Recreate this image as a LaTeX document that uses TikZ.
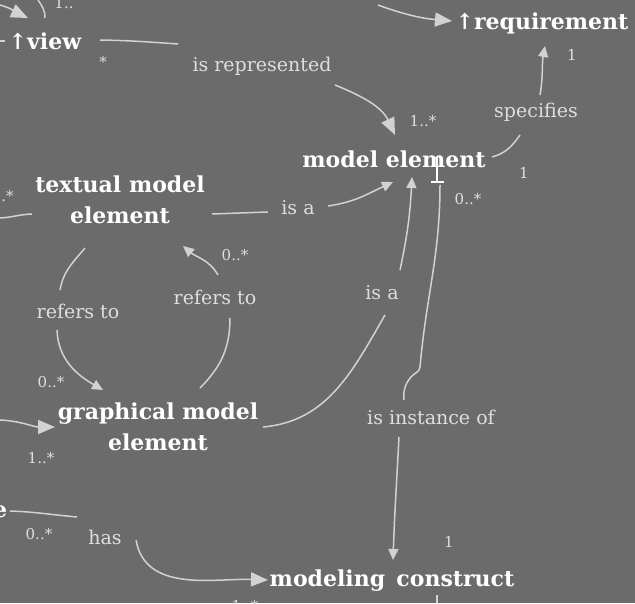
\documentclass[tikz,border=0pt]{standalone}
\usepackage{fontspec}
\setmainfont{DejaVu Serif}
\usetikzlibrary{arrows.meta}

\definecolor{bgray}{HTML}{6B6B6B}
\definecolor{lgray}{HTML}{D2D2D2}
\definecolor{tgray}{HTML}{DEDEDE}

\tikzset{
  concept/.style={text=white, font=\bfseries\fontsize{22}{31}\selectfont, align=center, inner sep=0pt},
  rel/.style={text=tgray, font=\fontsize{19}{22}\selectfont, inner sep=0pt},
  mult/.style={text=tgray, font=\fontsize{15}{17}\selectfont, inner sep=0pt},
  conn/.style={draw=lgray, line width=1.5pt},
  tip/.style={-{Triangle[length=11pt,width=10pt]}},
  bigtip/.style={-{Triangle[length=17pt,width=14pt]}},
}

\begin{document}
\begin{tikzpicture}[x=1pt,y=1pt]
	\fill[bgray] (0,0) rectangle (635,603);
	\useasboundingbox (0,0) rectangle (635,603);
	\clip (0,0) rectangle (635,603);

	% concepts
	\node[concept] (view) at (45,562) {↑view};
	\node[concept] (req) at (542,580) {↑requirement};
	\node[concept] (me) at (394,444) {model element};
	\node[concept] (txt) at (120,403) {textual model\\element};
	\node[concept] (gfx) at (158,176) {graphical model\\element};
	\node[concept] (mc) at (392,22) {modeling\, construct};
	\node[concept] (efrag) at (0,91) {e};

	% relation labels
	\node[rel] (rep) at (262,537) {is represented};
	\node[rel] (spec) at (536,491) {specifies};
	\node[rel] (isa1) at (298,395) {is a};
	\node[rel] (isa2) at (382,310) {is a};
	\node[rel] (ref1) at (78,292) {refers to};
	\node[rel] (ref2) at (215,306) {refers to};
	\node[rel] (inst) at (431,186) {is instance of};
	\node[rel] (has) at (105,66) {has};

	% multiplicities
	\node[mult] (m1) at (103,541) {*};
	\node[mult] (m2) at (423,482) {1..*};
	\node[mult] (m3) at (572,548) {1};
	\node[mult] (m4) at (524,430) {1};
	\node[mult] (m5) at (468,404) {0..*};
	\node[mult] (m6) at (235,348) {0..*};
	\node[mult] (m7) at (51,221) {0..*};
	\node[mult] (m8) at (41,145) {1..*};
	\node[mult] (m9) at (39,69) {0..*};
	\node[mult] (m10) at (449,61) {1};
	\node[mult] (m11) at (5,407) {..*};
	\node[mult] (m12) at (64,600) {1..};
	\node[mult] (m13) at (245,-3) {1..*};

	% free ends at the border
	\coordinate (w1) at (0,598);
	\coordinate (w2) at (38,603);
	\coordinate (w3) at (0,562);
	\coordinate (w4) at (0,385);
	\coordinate (w5) at (0,183);
	\coordinate (n1) at (378,598);
	\coordinate (s1) at (437,8);
	\coordinate (s2) at (437,0);

	% is represented
	\draw[conn] ([shift={(55,1)}]view.center) to[out=-1,in=176] ([shift={(-84,22)}]rep.center);
	\draw[conn,bigtip] ([shift={(73,-19)}]rep.center) to[out=-22,in=115] ([shift={(1,24)}]me.center);
	% specifies
	\draw[conn] ([shift={(98,2)}]me.center) to[out=15,in=235] ([shift={(-16,-23)}]spec.center);
	\draw[conn,tip] ([shift={(4,17)}]spec.center) to[out=80,in=-100] ([shift={(3,-23)}]req.center);
	% textual is a
	\draw[conn] ([shift={(92,-14)}]txt.center) to[out=2,in=182] ([shift={(-30,-4)}]isa1.center);
	\draw[conn,tip] ([shift={(30,2)}]isa1.center) to[out=8,in=205] ([shift={(-1,-23)}]me.center);
	% graphical is a
	\draw[conn] ([shift={(105,0)}]gfx.center) to[out=5,in=240] ([shift={(3,-22)}]isa2.center);
	\draw[conn,tip] ([shift={(18,23)}]isa2.center) to[out=78,in=-93] ([shift={(18,-18)}]me.center);
	% is instance of
	\draw[conn] ([shift={(46,-26)}]me.center) to[out=-90,in=85] ([shift={(-11,50)}]inst.center)
		to[out=-95,in=50] ([shift={(-20,40)}]inst.center)
		to[out=-130,in=95] ([shift={(-27,17)}]inst.center);
	\draw[conn,tip] ([shift={(-32,-20)}]inst.center) to[out=-93,in=88] ([shift={(1,21)}]mc.center);
	% refers to (textual -> graphical)
	\draw[conn] ([shift={(-35,-48)}]txt.center) to[out=-130,in=80] ([shift={(-18,21)}]ref1.center);
	\draw[conn,tip] ([shift={(-21,-19)}]ref1.center) to[out=-88,in=150] ([shift={(-55,37)}]gfx.center);
	% refers to (graphical -> textual)
	\draw[conn] ([shift={(42,39)}]gfx.center) to[out=45,in=-90] ([shift={(15,-21)}]ref2.center);
	\draw[conn,tip] ([shift={(3,22)}]ref2.center) to[out=120,in=-40] ([shift={(63,-46)}]txt.center);
	% has
	\draw[conn] ([shift={(10,1)}]efrag.center) to[out=-2,in=175] ([shift={(-28,20)}]has.center);
	\draw[conn,bigtip] ([shift={(31,-3)}]has.center) to[out=-80,in=178] ([shift={(-124,1)}]mc.center);
	% lines from outside
	\draw[conn,bigtip] (w1) to[out=-15,in=155] ([shift={(-17,23)}]view.center);
	\draw[conn] (w2) to[out=-55,in=90] ([shift={(0,23)}]view.center);
	\draw[conn] (w3) -- ([shift={(-40,0)}]view.center);
	\draw[conn] (w4) to[out=3,in=182] ([shift={(-88,-14)}]txt.center);
	\draw[conn,bigtip] (w5) to[out=-3,in=180] ([shift={(-103,0)}]gfx.center);
	\draw[conn,bigtip] (n1) to[out=-20,in=175] ([shift={(-90,2)}]req.center);
	\draw[conn] (s1) -- (s2);

	% cursor
	\draw[white, line width=1.2pt] (437,446) -- (437,421) (431,421) -- (444,421);
\end{tikzpicture}
\end{document}
